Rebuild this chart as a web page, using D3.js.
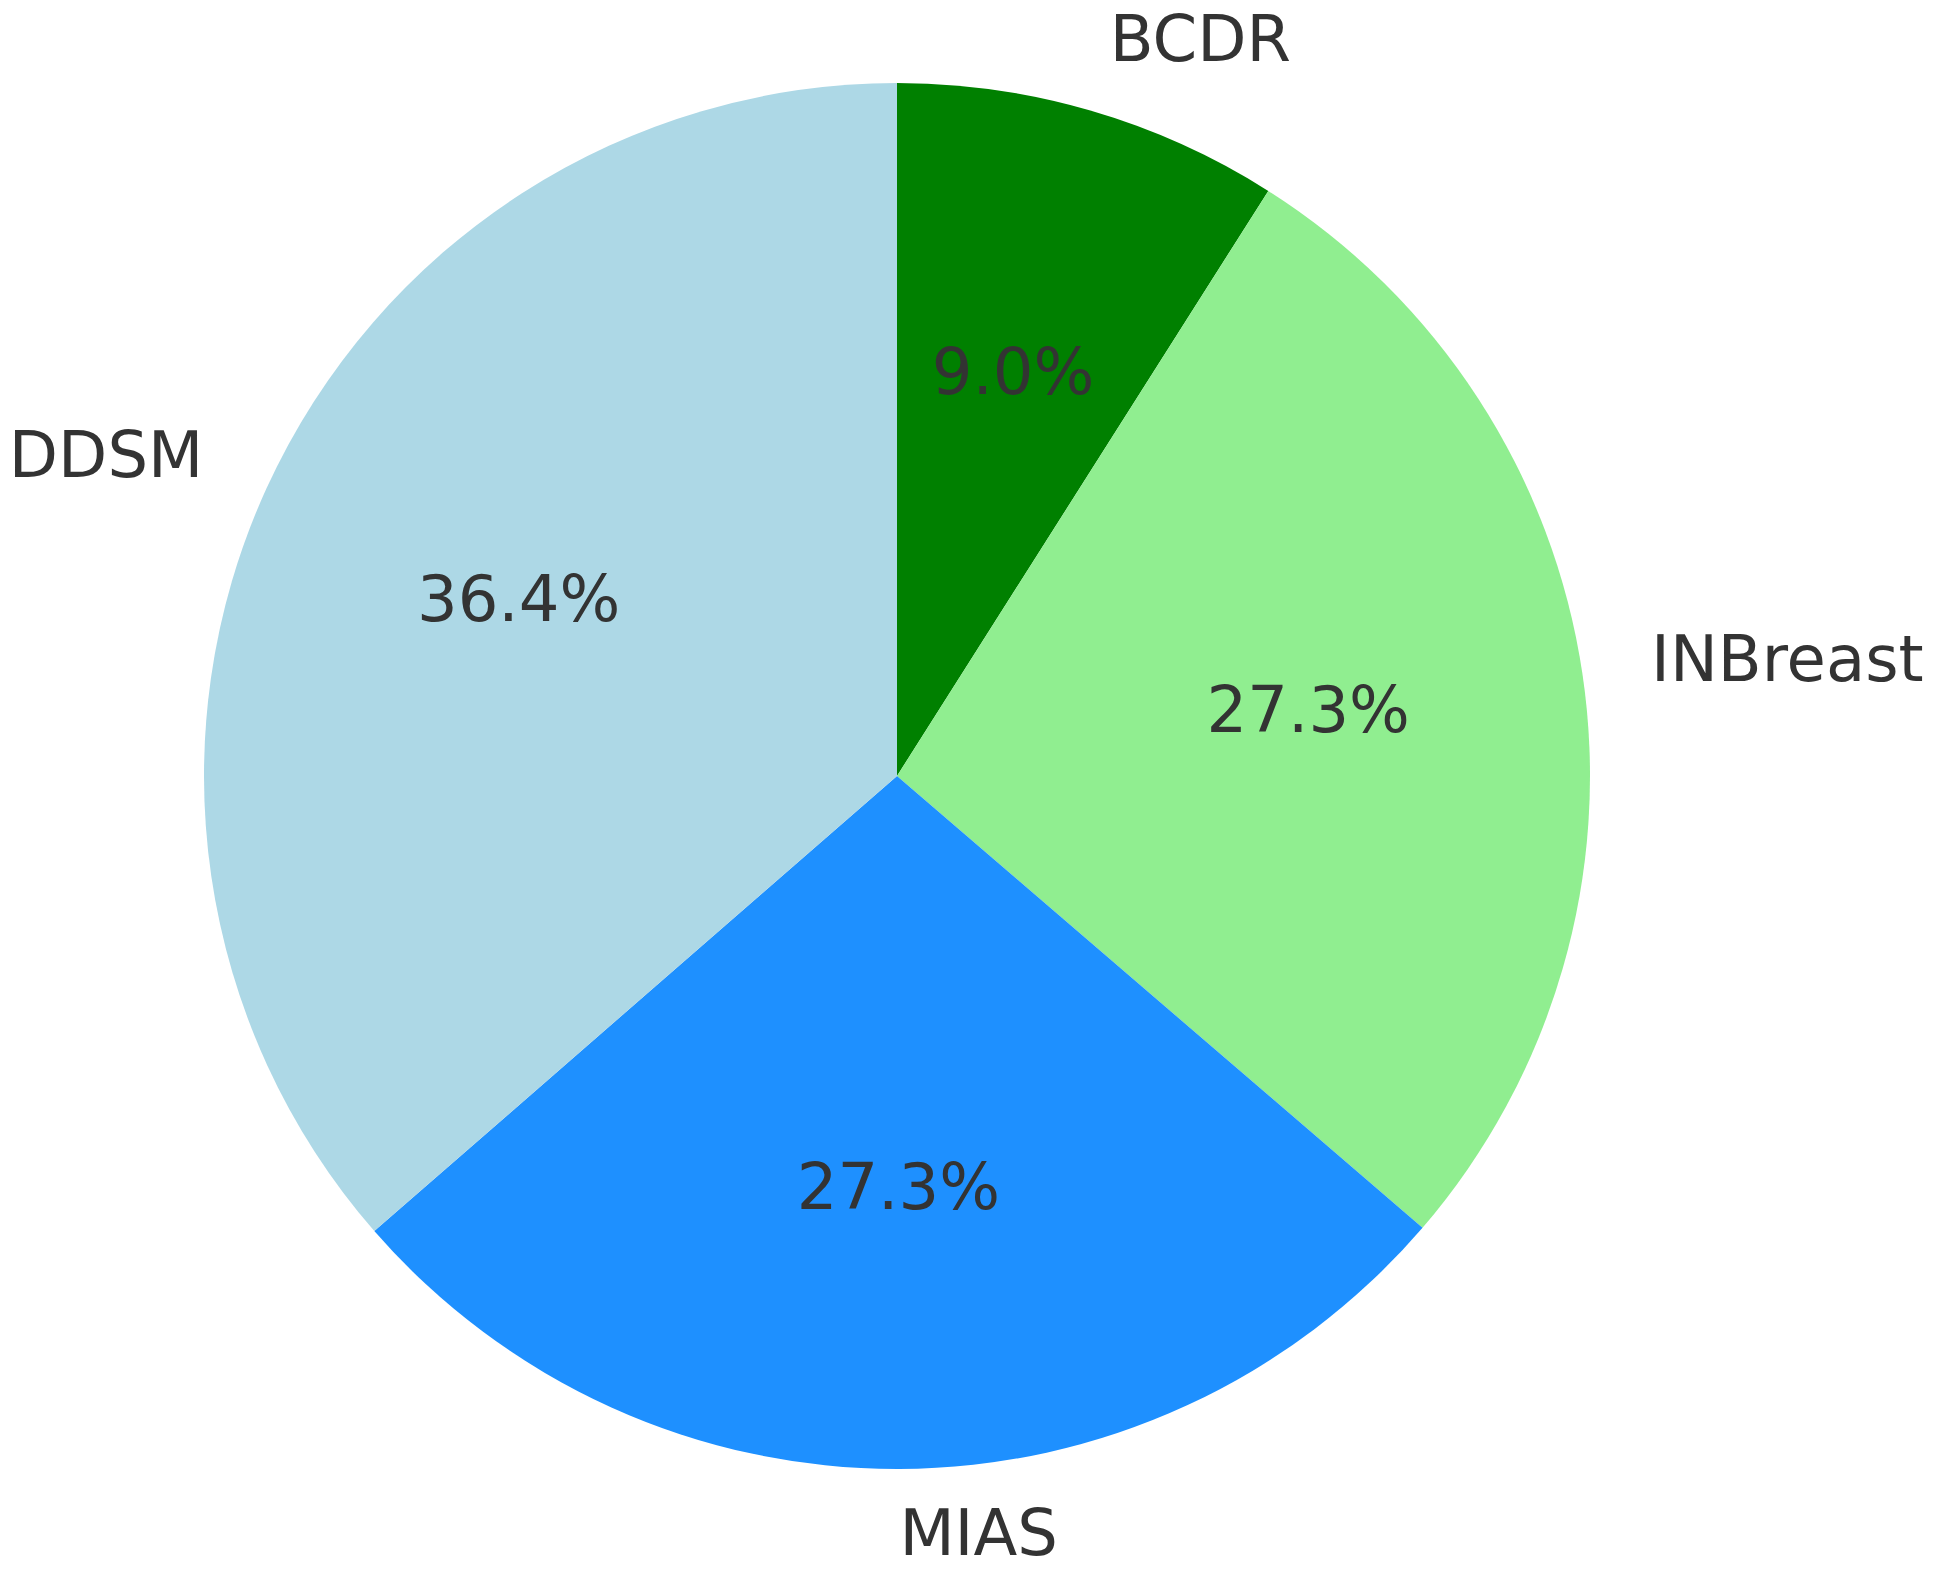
<!DOCTYPE html>
<html>
<head>
<meta charset="utf-8">
<script src="https://cdn.jsdelivr.net/npm/d3@7"></script>
<style>
  html, body { margin: 0; padding: 0; background: #fff; }
  svg { display: block; }
</style>
</head>
<body>
<svg id="chart" width="1942" height="1580"></svg>
<script>
const categories = ["BCDR", "INBreast", "MIAS", "DDSM"];
const values = [9.0, 27.3, 27.3, 36.4];
const colors = ["#008000", "#90EE90", "#1E90FF", "#ADD8E6"];

const W = 1942, H = 1580;
const cx = 897, cy = 776, R = 693;
const fontSize = 64;
const textColor = "#333333";

const svg = d3.select("#chart");
const g = svg.append("g").attr("transform", `translate(${cx},${cy})`);

const data = categories.map((c, i) => ({ name: c, value: values[i], color: colors[i] }));
const pie = d3.pie().sort(null).value(d => d.value).startAngle(0).endAngle(2 * Math.PI);
const arcs = pie(data);
const arc = d3.arc().innerRadius(0).outerRadius(R);

g.selectAll("path.slice")
  .data(arcs)
  .join("path")
  .attr("class", "slice")
  .attr("d", arc)
  .attr("fill", d => d.data.color);

const mid = d => (d.startAngle + d.endAngle) / 2;

// percentage labels at 0.6 R
g.selectAll("text.pct")
  .data(arcs)
  .join("text")
  .attr("class", "pct")
  .attr("x", d => 0.6 * R * Math.sin(mid(d)))
  .attr("y", d => -0.6 * R * Math.cos(mid(d)))
  .attr("dy", "0.265em")
  .attr("text-anchor", "middle")
  .attr("font-family", "DejaVu Sans")
  .attr("font-size", fontSize)
  .attr("fill", textColor)
  .text(d => d3.format(".1f")(d.data.value) + "%");

// category labels at 1.1 R
g.selectAll("text.lbl")
  .data(arcs)
  .join("text")
  .attr("class", "lbl")
  .attr("x", d => 1.1 * R * Math.sin(mid(d)))
  .attr("y", d => -1.1 * R * Math.cos(mid(d)))
  .attr("dy", "0.265em")
  .attr("text-anchor", d => Math.sin(mid(d)) > 0 ? "start" : "end")
  .attr("font-family", "DejaVu Sans")
  .attr("font-size", fontSize)
  .attr("fill", textColor)
  .text(d => d.data.name);
</script>
</body>
</html>
